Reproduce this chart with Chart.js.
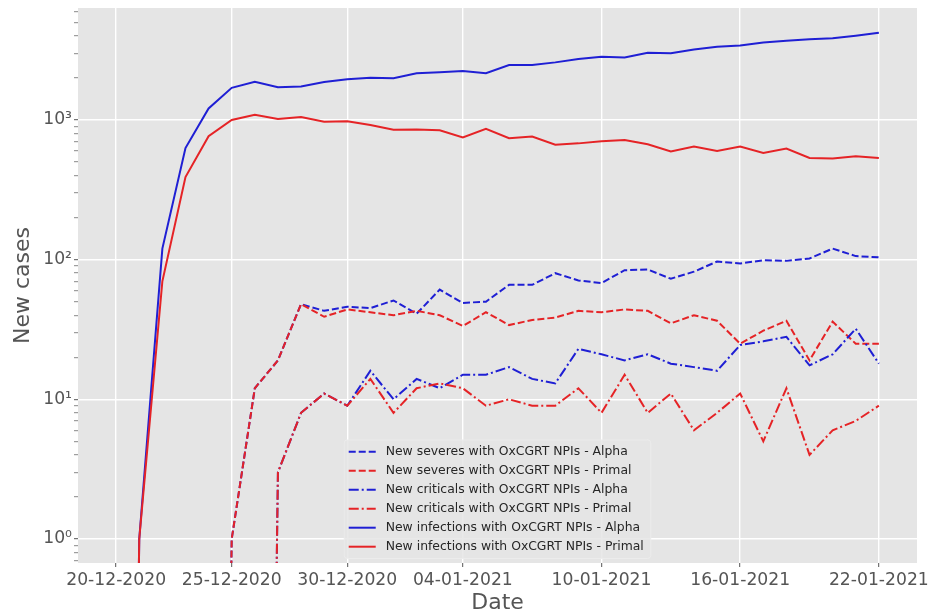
<!DOCTYPE html>
<html>
<head>
<meta charset="utf-8">
<script src="https://cdn.jsdelivr.net/npm/chart.js@4.4.1/dist/chart.umd.min.js"></script>
<style>
  html, body { margin: 0; padding: 0; background: #ffffff; }
  #wrap { width: 933px; height: 614px; }
</style>
</head>
<body>
<div id="wrap"><canvas id="chart" width="933" height="614"></canvas></div>
<script>
// Daily dates on the x axis (day index = position in this list)
const dates = [
  '20-12-2020','21-12-2020','22-12-2020','23-12-2020','24-12-2020','25-12-2020',
  '26-12-2020','27-12-2020','28-12-2020','29-12-2020','30-12-2020','31-12-2020',
  '01-01-2021','02-01-2021','03-01-2021','04-01-2021','05-01-2021','06-01-2021',
  '07-01-2021','08-01-2021','09-01-2021','10-01-2021','11-01-2021','12-01-2021',
  '13-01-2021','14-01-2021','15-01-2021','16-01-2021','17-01-2021','18-01-2021',
  '19-01-2021','20-01-2021','21-01-2021','22-01-2021'
];

// Labelled date ticks
const xTickLabels = ['20-12-2020','25-12-2020','30-12-2020','04-01-2021','10-01-2021','16-01-2021','22-01-2021'];

// Labelled decades on the log axis
const yTickValues = [1, 10, 100, 1000];
const yTickLabels = ['10\u2070', '10\u00b9', '10\u00b2', '10\u00b3'];

const seriesNames = [
  'New severes with OxCGRT NPIs - Alpha',
  'New severes with OxCGRT NPIs - Primal',
  'New criticals with OxCGRT NPIs - Alpha',
  'New criticals with OxCGRT NPIs - Primal',
  'New infections with OxCGRT NPIs - Alpha',
  'New infections with OxCGRT NPIs - Primal'
];

const severesAlpha = [0,0,0,0,0,1,12,19,48,43,46,45,51,41,61,49,50,66,66,80,71,68,84,85,73,82,97,94,99,98,102,120,106,104];
const severesPrimal = [0,0,0,0,0,1,12,19,48,39,44,42,40,43,40,33.5,42,34,37,38.5,43,42,44,43,35,40,36.5,25,31,36.5,19,36,25,25];
const criticalsAlpha = [0,0,0,0,0,0,0,3,8,11,9,16,10,14,12,15,15,17,14,13,23,21,19,21,18,17,16,24.5,26,28,17.5,21,32,18];
const criticalsPrimal = [0,0,0,0,0,0,0,3,8,11,9,14,8,12,13,12,9,10,9,9,12,8,15,8,11,6,8,11,5,12,4,6,7,9];
const infectionsAlpha = [0,1,120,630,1210,1700,1880,1715,1740,1870,1960,2005,1990,2160,2195,2240,2160,2475,2475,2585,2730,2840,2800,3030,3000,3200,3345,3420,3590,3690,3780,3840,4010,4210];
const infectionsPrimal = [0,1,70,390,765,1000,1090,1015,1050,970,980,920,850,855,845,750,865,740,760,665,680,705,720,670,595,645,600,645,580,625,535,530,550,535];

const BLUE = '#1f1fd4';
const RED = '#e52326';
const DASH = [7, 3];
const DASH_DOT = [10, 3, 2, 3];

// Zero counts sit far below a log axis; they are pushed off the bottom edge
// so the line drops straight down, as a clipped log plot does.
const offAxis = v => (v > 0 ? v : 1e-12);
const toPoints = arr => arr.map((v, i) => ({ x: i, y: offAxis(v) }));

const seriesValues = [severesAlpha, severesPrimal, criticalsAlpha, criticalsPrimal, infectionsAlpha, infectionsPrimal];
const seriesColors = [BLUE, RED, BLUE, RED, BLUE, RED];
const seriesDash = [DASH, DASH, DASH_DOT, DASH_DOT, [], []];

const datasets = seriesValues.map((vals, i) => ({
  label: seriesNames[i],
  data: toPoints(vals),
  borderColor: seriesColors[i],
  backgroundColor: seriesColors[i],
  borderDash: seriesDash[i],
  borderWidth: 2,
  pointRadius: 0,
  tension: 0,
  fill: false,
  // later series are painted over earlier ones
  order: seriesValues.length - 1 - i
}));

const Y_MIN = 0.673, Y_MAX = 6335;

const plotBackground = {
  id: 'plotBackground',
  beforeDraw(chart) {
    const { ctx, chartArea: a } = chart;
    ctx.save();
    ctx.fillStyle = '#ffffff';
    ctx.fillRect(0, 0, chart.width, chart.height);
    ctx.fillStyle = '#e5e5e5';
    ctx.fillRect(a.left, a.top, a.right - a.left, a.bottom - a.top);
    ctx.restore();
  }
};

// Framed legend at the lower centre of the plot
const framedLegend = {
  id: 'framedLegend',
  afterDatasetsDraw(chart) {
    const { ctx, chartArea: a } = chart;
    const sets = chart.data.datasets;
    ctx.save();
    ctx.font = '12.4px "DejaVu Sans"';
    const textW = Math.max(...sets.map(d => ctx.measureText(d.label).width));
    const padL = 4.5, handleLen = 27, gap = 10, padR = 7, rowH = 19, padV = 2.3;
    const w = padL + handleLen + gap + textW + padR;
    const h = sets.length * rowH + 2 * padV;
    const cx = (a.left + a.right) / 2;
    const x0 = cx - w / 2;
    const y0 = a.bottom - 4.5 - h;
    ctx.beginPath();
    ctx.roundRect(x0, y0, w, h, 3);
    ctx.fillStyle = 'rgba(229,229,229,0.85)';
    ctx.fill();
    ctx.lineWidth = 1;
    ctx.strokeStyle = 'rgba(236,236,236,0.9)';
    ctx.stroke();
    sets.forEach((d, i) => {
      const yc = y0 + padV + rowH * (i + 0.5);
      ctx.beginPath();
      ctx.setLineDash(d.borderDash || []);
      ctx.strokeStyle = d.borderColor;
      ctx.lineWidth = d.borderWidth;
      ctx.moveTo(x0 + padL, yc);
      ctx.lineTo(x0 + padL + handleLen, yc);
      ctx.stroke();
      ctx.setLineDash([]);
      ctx.fillStyle = '#262626';
      ctx.textBaseline = 'middle';
      ctx.textAlign = 'left';
      ctx.fillText(d.label, x0 + padL + handleLen + gap, yc + 0.5);
    });
    ctx.restore();
  }
};

new Chart(document.getElementById('chart'), {
  type: 'line',
  data: { datasets },
  plugins: [plotBackground, framedLegend],
  options: {
    responsive: false,
    animation: false,
    devicePixelRatio: 1,
    layout: { padding: { left: 0, top: 8, right: 16, bottom: 0 } },
    plugins: { legend: { display: false }, tooltip: { enabled: false } },
    scales: {
      x: {
        type: 'linear',
        min: -1.65,
        max: 34.65,
        afterBuildTicks(scale) {
          scale.ticks = xTickLabels.map(l => ({ value: dates.indexOf(l) }));
        },
        afterFit(scale) {
          scale.height = 51;
          scale.paddingLeft = 0;
          scale.paddingRight = 0;
        },
        border: { display: false },
        grid: { color: '#ffffff', lineWidth: 1.4, drawTicks: true, tickLength: 4, tickColor: '#555555', tickWidth: 1 },
        ticks: {
          autoSkip: false,
          maxRotation: 0,
          padding: 3,
          color: '#555555',
          font: { family: 'DejaVu Sans', size: 17.2 },
          callback: (v, i) => xTickLabels[i]
        },
        title: {
          display: true,
          text: 'Date',
          color: '#555555',
          font: { family: 'DejaVu Sans', size: 22, lineHeight: 1 },
          padding: { top: 0, bottom: 0 }
        }
      },
      y: {
        type: 'logarithmic',
        min: Y_MIN,
        max: Y_MAX,
        afterBuildTicks(scale) {
          const ticks = [];
          for (let e = -1; e <= 3; e++) {
            for (let m = 1; m <= 9; m++) {
              const v = m * Math.pow(10, e);
              if (v >= Y_MIN && v <= Y_MAX) ticks.push({ value: v, major: m === 1 });
            }
          }
          scale.ticks = ticks;
        },
        afterFit(scale) {
          scale.width = 78;
          scale.paddingTop = 0;
          scale.paddingBottom = 0;
        },
        border: { display: false },
        grid: {
          color: c => (yTickValues.includes(c.tick && c.tick.value) ? '#ffffff' : 'rgba(0,0,0,0)'),
          lineWidth: 1.4,
          drawTicks: true,
          tickLength: 4,
          tickColor: c => (yTickValues.includes(c.tick && c.tick.value) ? '#555555' : '#888888'),
          tickWidth: 1
        },
        ticks: {
          autoSkip: false,
          padding: 2,
          color: '#555555',
          font: { family: 'DejaVu Sans', size: 17.2 },
          callback: v => {
            const k = yTickValues.indexOf(v);
            return k >= 0 ? yTickLabels[k] : '';
          }
        },
        title: {
          display: true,
          text: 'New cases',
          color: '#555555',
          font: { family: 'DejaVu Sans', size: 22, lineHeight: 1 },
          padding: { top: 12, bottom: 0 }
        }
      }
    }
  }
});
</script>
</body>
</html>
